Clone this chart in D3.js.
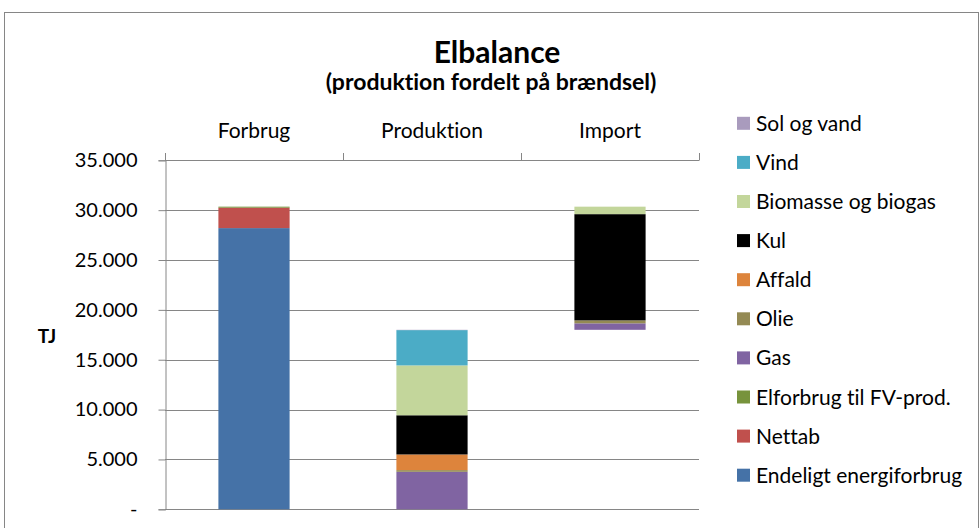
<!DOCTYPE html>
<html>
<head>
<meta charset="utf-8">
<script src="https://cdn.jsdelivr.net/npm/d3@7/dist/d3.min.js"></script>
<style>
  html, body { margin: 0; padding: 0; background: #fff; }
  svg { display: block; font-family: Lato, "Open Sans", sans-serif; font-variant-ligatures: none; font-feature-settings: "liga" 0; }
</style>
</head>
<body>
<svg id="chart" width="979" height="528"></svg>
<script>
// Categories along the top axis
const categories = ["Forbrug", "Produktion", "Import"];

// Invisible base that lifts the Import bar onto the top of Produktion
const baseValues = [0, 0, 18000];

// Stacked series, bottom to top (TJ)
const seriesNames = [
  "Endeligt energiforbrug", "Nettab", "Elforbrug til FV-prod.", "Gas", "Olie",
  "Affald", "Kul", "Biomasse og biogas", "Vind", "Sol og vand"
];
const endeligt   = [28200, 0, 0];
const nettab     = [2050, 0, 0];
const elforbrug  = [100, 0, 0];
const gas        = [0, 3760, 650];
const olie       = [0, 170, 300];
const affald     = [0, 1570, 0];
const kul        = [0, 3930, 10650];
const biomasse   = [0, 5000, 750];
const vind       = [0, 3540, 0];
const solOgVand  = [0, 30, 0];
const seriesValues = [endeligt, nettab, elforbrug, gas, olie, affald, kul, biomasse, vind, solOgVand];
const seriesColors = [
  "#4572A7", "#C0504D", "#77933C", "#8064A2", "#948A54",
  "#DD843C", "#000000", "#C3D69B", "#4BACC6", "#A99BBD"
];

const yTicks = [0, 5000, 10000, 15000, 20000, 25000, 30000, 35000];

const FONT = "Lato, 'Open Sans', sans-serif";
const svg = d3.select("#chart");

// Chart frame
svg.append("rect")
  .attr("x", 4.5).attr("y", 12.5).attr("width", 974).attr("height", 530)
  .attr("fill", "#fff").attr("stroke", "#868686").attr("stroke-width", 1);

const plot = { left: 165, right: 699, top: 160.3, bottom: 509.3 };

const x = d3.scaleBand().domain(categories)
  .range([plot.left, plot.right]).paddingInner(0.6).paddingOuter(0.3);
const y = d3.scaleLinear().domain([0, 35000]).range([plot.bottom, plot.top]);

const locale = d3.formatLocale({ decimal: ",", thousands: ".", grouping: [3], currency: ["", " kr."] });
const fmt = locale.format(",.0f");

// Gridlines
svg.append("g").selectAll("line").data(yTicks).join("line")
  .attr("x1", plot.left).attr("x2", plot.right)
  .attr("y1", d => Math.round(y(d)) + 0.5).attr("y2", d => Math.round(y(d)) + 0.5)
  .attr("stroke", "#868686").attr("stroke-width", 1);

// Value axis (left)
const yAxis = svg.append("g")
  .attr("transform", `translate(${plot.left + 0.5},0)`)
  .call(d3.axisLeft(y).tickValues(yTicks).tickSize(7).tickPadding(21)
    .tickFormat(d => d === 0 ? "-" : fmt(d)));
yAxis.select(".domain").attr("stroke", "#868686");
yAxis.selectAll(".tick line").attr("stroke", "#868686");
yAxis.selectAll(".tick text").attr("fill", "#000").style("font-size", "20px")
  .style("font-family", FONT);

// Category axis (top)
const xAxis = svg.append("g")
  .attr("transform", `translate(0,${Math.round(plot.top) + 0.5})`)
  .call(d3.axisTop(x).tickSize(0).tickPadding(23));
xAxis.select(".domain").remove();
xAxis.selectAll(".tick text").attr("fill", "#000").style("font-size", "21px")
  .style("font-family", FONT);
// Tick marks between categories
const step = x.step();
const bounds = categories.map((c, i) => plot.left + i * step).concat([plot.right]);
svg.append("g").selectAll("line").data(bounds).join("line")
  .attr("x1", d => Math.round(d) + 0.5).attr("x2", d => Math.round(d) + 0.5)
  .attr("y1", Math.round(plot.top) - 7).attr("y2", Math.round(plot.top) + 0.5)
  .attr("stroke", "#868686");

// Stacked bars
const rows = categories.map((c, i) => {
  const r = { category: c, base: baseValues[i] };
  seriesNames.forEach((s, j) => { r[s] = seriesValues[j][i]; });
  return r;
});
const stack = d3.stack().keys(["base"].concat(seriesNames));
const layers = stack(rows);

svg.append("g").selectAll("g").data(layers.slice(1)).join("g")
  .attr("fill", (d, i) => seriesColors[i])
  .selectAll("rect").data(d => d.filter(p => p[1] > p[0])).join("rect")
  .attr("x", d => x(d.data.category))
  .attr("width", x.bandwidth())
  .attr("y", d => y(d[1]))
  .attr("height", d => y(d[0]) - y(d[1]));

// Axis title
svg.append("text").attr("x", 47).attr("y", 343).attr("text-anchor", "middle")
  .style("font-size", "19px").style("font-weight", "bold").text("TJ");

// Titles
svg.append("text").attr("x", 497).attr("y", 63).attr("text-anchor", "middle")
  .style("font-size", "30px").style("font-weight", "bold").text("Elbalance");
svg.append("text").attr("x", 491).attr("y", 90).attr("text-anchor", "middle")
  .style("font-size", "23px").style("font-weight", "bold").text("(produktion fordelt på brændsel)");

// Legend (top item is the last series)
const legendItems = seriesNames.map((s, j) => ({ name: s, color: seriesColors[j] })).reverse();
const legend = svg.append("g").selectAll("g").data(legendItems).join("g")
  .attr("transform", (d, i) => `translate(737,${123.3 + i * 39.1})`);
legend.append("rect").attr("x", 0).attr("y", -6.5).attr("width", 13).attr("height", 13)
  .attr("fill", d => d.color);
legend.append("text").attr("x", 19).attr("y", 7.5)
  .style("font-size", "21px").text(d => d.name);
</script>
</body>
</html>
